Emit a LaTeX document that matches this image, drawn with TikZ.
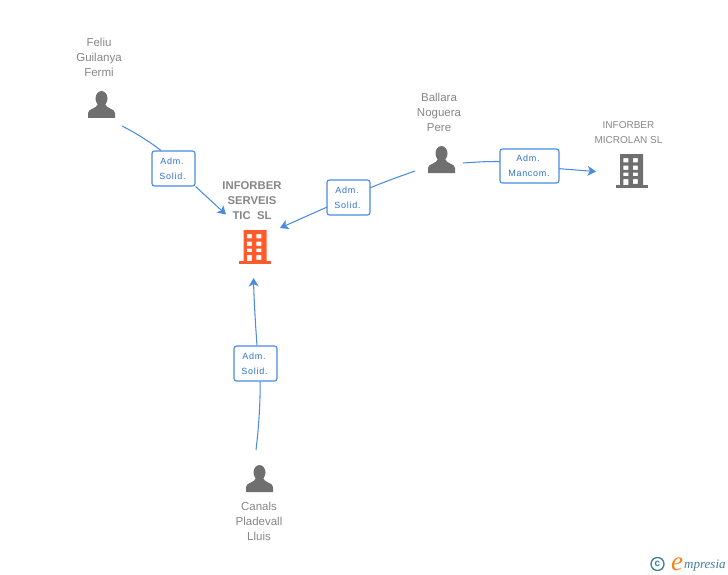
\documentclass[tikz,border=0pt]{standalone}
\usepackage{fontspec}
\setmainfont{Liberation Sans}
\newfontfamily\labelfont[LetterSpace=8]{Liberation Sans}
\newfontfamily\logofont{Liberation Serif}
\usetikzlibrary{arrows.meta,backgrounds}
\definecolor{gtext}{HTML}{868686}
\definecolor{gicon}{HTML}{6F6F6F}
\definecolor{linkc}{HTML}{4A8AE2}
\definecolor{labc}{HTML}{2F72D0}
\definecolor{orng}{HTML}{FF5A2B}
\definecolor{logoor}{HTML}{F58220}
\definecolor{teal}{HTML}{3E7F98}
\tikzset{
  x=1pt,y=-1pt,
  nametext/.style={align=center,text=gtext,font=\fontsize{11.5}{15}\selectfont,inner sep=0pt},
  roletext/.style={draw=linkc,line width=1.1pt,rounded corners=2.5pt,fill=white,text=labc,align=center,
     inner sep=0pt,font=\labelfont\fontsize{9}{15}\selectfont},
  link/.style={draw=linkc,line width=1.05pt},
  tip/.style={-{Stealth[length=8.5pt,width=10pt,inset=2.5pt]}},
  person/.pic={
    \fill[pic actions] (0,-6.5) ellipse [x radius=6,y radius=7.5];
    \fill[pic actions] (-13.5,13) -- (-13.5,8) .. controls (-13.5,3.5) and (-5,4) .. (-3.5,-1)
       -- (3.5,-1) .. controls (5,4) and (13.5,3.5) .. (13.5,8) -- (13.5,13) -- cycle;
  },
  building/.pic={
    \fill[pic actions,even odd rule]
      (-11.5,-17) rectangle (11.5,15)
      (-8.2,-13) rectangle (-3.2,-8.7)
      (1.4,-13) rectangle (6.4,-8.7)
      (-8.2,-5.5) rectangle (-3.2,-1.2)
      (1.4,-5.5) rectangle (6.4,-1.2)
      (-8.2,1.5) rectangle (-3.2,5.2)
      (1.4,1.5) rectangle (6.4,5.2)
      (-8.2,8) rectangle (-3.2,15)
      (1.4,8) rectangle (6.4,12.8);
    \fill[pic actions] (-16,14) rectangle (16,17);
  },
}
\begin{document}
\begin{tikzpicture}
\useasboundingbox (0,0) rectangle (728,575);

% people and companies
\pic[fill=gicon] at (101.5,105) {person};
\pic[fill=gicon] at (441.5,160) {person};
\pic[fill=gicon] at (259.5,479) {person};
\pic[fill=orng] at (255,247) {building};
\pic[fill=gicon] at (631.5,171) {building};

\node[nametext] (feliu) at (99,57) {Feliu\\Guilanya\\Fermi};
\node[nametext] (ballara) at (439,112) {Ballara\\Noguera\\Pere};
\node[nametext] (canals) at (259,521) {Canals\\Pladevall\\Lluis};
\node[nametext,font=\bfseries\fontsize{11.3}{15}\selectfont] (serveis) at (252,201) {INFORBER\\SERVEIS\\TIC\ \ SL};
\node[nametext,font=\fontsize{10}{15}\selectfont] (microlan) at (628.5,133) {INFORBER\\MICROLAN SL};

% role boxes
\node[roletext,minimum width=43pt,minimum height=35pt] (box1) at (173.5,168.5) {Adm.\hspace*{3pt}\\Solid.\hspace*{2pt}};
\node[roletext,minimum width=43pt,minimum height=35pt] (box2) at (348.5,197.5) {Adm.\hspace*{3pt}\\Solid.\hspace*{2pt}};
\node[roletext,minimum width=59pt,minimum height=34pt] (box3) at (529.5,166) {Adm.\hspace*{3pt}\\Mancom.\hspace*{1pt}};
\node[roletext,minimum width=43pt,minimum height=35pt] (box4) at (255.5,363.5) {Adm.\hspace*{3pt}\\Solid.\hspace*{2pt}};

% connector ends
\coordinate (o1) at (122,126);
\coordinate (t1) at (226,214.5);
\coordinate (o2) at (415,171);
\coordinate (t2) at (280,228);
\coordinate (o3) at (463,163);
\coordinate (t3) at (596,171.5);
\coordinate (o4) at (256,450);
\coordinate (t4) at (253.5,278);

\begin{scope}[on background layer]
  \draw[link] (o1) .. controls (135,132.5) and (150,142) .. ([xshift=-12.5pt]box1.north);
  \draw[link,tip] (box1.south east) -- (t1);
  \draw[link] (o2) .. controls (395,178) and (370,187) .. (box2.center);
  \draw[link,tip] (box2.center) -- (t2);
  \draw[link] (o3) .. controls (480,162) and (510,159) .. (box3.center);
  \draw[link,tip] (box3.center) .. controls (550,168) and (575,170) .. (t3);
  \draw[link] (o4) .. controls (259,425) and (260.5,400) .. ([xshift=4.5pt]box4.south);
  \draw[link,tip] ([xshift=1.5pt]box4.north) .. controls (255.5,325) and (254,300) .. (t4);
\end{scope}

% logo
\node[draw=teal,line width=1.3pt,circle,minimum size=13pt,inner sep=0pt,text=teal,font=\bfseries\fontsize{10}{10}\selectfont] (copy) at (657.5,564) {c};
\node[inner sep=0pt,anchor=base west,text=logoor,font=\logofont\itshape\fontsize{27}{27}\selectfont] (logoe) at (671,570) {e};
\node[inner sep=0pt,anchor=base west,text=teal,font=\logofont\itshape\fontsize{13}{13}\selectfont] (logot) at (684,568) {mpresia};
\end{tikzpicture}
\end{document}
